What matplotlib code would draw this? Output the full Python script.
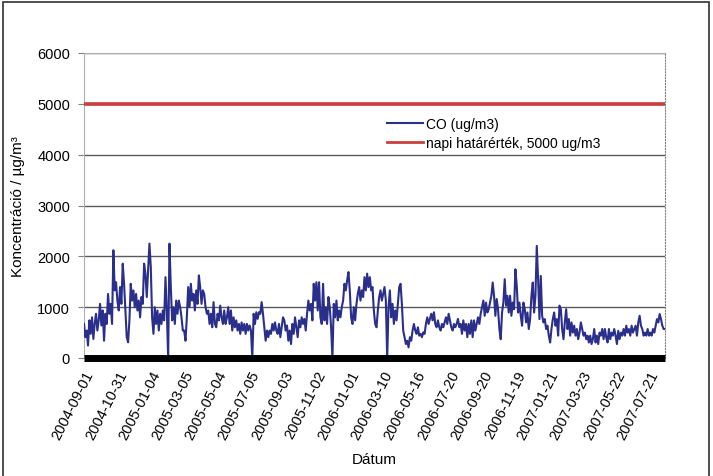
import numpy as np
import matplotlib.pyplot as plt
from matplotlib.patches import Rectangle

plt.rcParams['font.family'] = ['Liberation Sans', 'DejaVu Sans']

# daily CO averages (ug/m3), sampled along the category axis
co_2004_05 = [670, 410, 540, 245, 740, 475, 800, 375, 670, 870,
              540, 740, 1065, 640, 935, 340, 870, 670, 1260, 870,
              1065, 670, 2120, 1330, 1490, 1130, 935, 1395, 1065, 1855,
              1460, 935, 410, 310, 740, 1460, 1130, 1330, 1000, 1260,
              935, 1130, 800, 1200, 1065, 1855, 1660, 1200, 1725, 2250,
              1790, 800, 475, 1000, 670, 935, 540, 870, 670, 935,
              740, 1590, 935, 0, 2250, 1395, 740, 1000, 670, 1130,
              870, 1130, 1000, 800, 540]
co_2005_spring = [540, 340, 800, 1395, 1000, 1460, 1130, 1260, 935, 1330,
                  1065, 1625, 1395, 1065, 1330, 1260, 1000, 870, 935, 670,
                  870, 605, 1100, 670, 605, 870, 740, 1030, 800, 670,
                  935, 670, 800, 1000, 670, 935, 540, 800, 605, 740,
                  540, 670, 475, 700, 540, 670, 475, 670, 540, 640,
                  540, 0, 870, 670, 900, 770, 900, 870, 1100, 870,
                  605, 340, 540, 410, 540, 475, 670, 540, 700, 540,
                  475, 670, 410, 605, 800]
co_2005_autumn = [740, 540, 640, 340, 540, 275, 670, 475, 800, 605,
                  410, 740, 605, 800, 670, 770, 540, 870, 1130, 935,
                  1065, 740, 1460, 1130, 1490, 935, 1490, 800, 670, 1460,
                  740, 1000, 670, 1200, 1000, 605, 0, 1065, 800, 1130,
                  740, 935, 800, 1000, 1130, 1460, 1330, 1525, 1690, 1330,
                  800, 670, 1000, 740, 1065, 1260, 1395, 1130, 1330, 1200,
                  1590, 1330, 1660, 1395, 1590, 1330, 1395, 935, 670, 605,
                  935, 1200, 1330, 1130, 1260]
co_2006_summer = [1395, 1130, 0, 1000, 1330, 800, 1065, 670, 935, 740,
                  1065, 1395, 1460, 1065, 540, 410, 275, 340, 210, 410,
                  340, 540, 670, 540, 475, 605, 440, 475, 410, 505,
                  475, 670, 800, 670, 770, 870, 740, 900, 670, 605,
                  740, 605, 540, 670, 605, 700, 800, 670, 870, 740,
                  605, 540, 670, 605, 670, 770, 605, 670, 475, 740,
                  540, 670, 410, 670, 475, 740, 410, 740, 540, 670,
                  800, 670, 870, 1000, 1130]
co_2006_autumn = [830, 1090, 895, 960, 1090, 1225, 1485, 1225, 830, 1160,
                  960, 570, 370, 895, 1090, 1550, 1030, 1225, 895, 1225,
                  830, 1090, 960, 1745, 1420, 895, 1090, 830, 635, 1090,
                  960, 700, 895, 570, 765]
co_2007 = [1225, 1485, 895, 1225, 2205, 1550, 765, 1615, 830, 700,
           765, 570, 635, 440, 305, 570, 765, 895, 635, 765,
           440, 1030, 960, 570, 370, 700, 960, 570, 765, 440,
           700, 500, 635, 440, 570, 370, 500, 700, 570, 440,
           500, 370, 440, 305, 440, 275, 370, 570, 305, 440,
           275, 500, 440, 570, 370, 570, 405, 305, 570, 370,
           500, 440, 570, 440, 275, 535, 370, 500, 440, 570,
           440, 635, 500, 570, 440, 635, 500, 570, 635, 440,
           700, 830, 635, 570, 440, 500, 440, 570, 440, 500,
           440, 570, 500, 635, 765, 700, 865, 765, 635, 570, 570]

date_labels = ['2004-09-01', '2004-10-31', '2005-01-04', '2005-03-05', '2005-05-04',
               '2005-07-05', '2005-09-03', '2005-11-02', '2006-01-01', '2006-03-10',
               '2006-05-16', '2006-07-20', '2006-09-20', '2006-11-19', '2007-01-21',
               '2007-03-23', '2007-05-22', '2007-07-21']
n_days = 1050
label_step = 60
limit = 5000

co = np.array(co_2004_05 + co_2005_spring + co_2005_autumn
              + co_2006_summer + co_2006_autumn + co_2007)
x = np.linspace(0, n_days, len(co))

fig = plt.figure(figsize=(7.13, 4.77), dpi=100)
ax = fig.add_axes([84/713, 1 - 359/477, 581/713, 305/477])

ax.plot(x, co, color='#2b2f8c', lw=1.5, label='CO (ug/m3)', zorder=3)
ax.axhline(limit, color='#c8403c', lw=2.6, label='napi határérték, 5000 ug/m3', zorder=3)

ax.set_xlim(0, n_days)
ax.set_ylim(0, 6000)
ax.set_yticks(np.arange(0, 6001, 1000))
ax.grid(axis='y', color='#5a5a5a', lw=1)
ax.set_axisbelow(True)

ticks = np.arange(len(date_labels)) * label_step
ax.set_xticks(ticks)
ax.set_xticklabels(date_labels, rotation=63, ha='right', rotation_mode='anchor', fontsize=10.5)
ax.tick_params(axis='x', length=0, pad=7)
ax.tick_params(axis='y', length=4, labelsize=10.5, color='#808080', pad=6)

for side in ['left', 'top']:
    ax.spines[side].set_color('#b0b0b0')
    ax.spines[side].set_linewidth(0.8)
ax.spines['right'].set_color('#808080')
ax.spines['right'].set_linestyle(':')
ax.spines['bottom'].set_color('black')
ax.spines['bottom'].set_linewidth(5)
ax.spines['bottom'].set_capstyle('butt')
ax.spines['bottom'].set_zorder(4)

ax.set_ylabel('Koncentráció / µg/m³', fontsize=11, labelpad=9)
ax.set_xlabel('Dátum', fontsize=11, labelpad=8)

leg = ax.legend(loc='upper left', bbox_to_anchor=(0.50, 0.83), frameon=False,
                fontsize=10, handlelength=2.6, handletextpad=0.2, labelspacing=0.3)
leg.get_lines()[1].set_linewidth(2)

# outer frame of the chart area
fig.patches.append(Rectangle((0.004, -0.05), 0.99, 1.043, transform=fig.transFigure,
                             fill=False, edgecolor='#303030', lw=1.2))

fig.savefig('out.png', dpi=100)
